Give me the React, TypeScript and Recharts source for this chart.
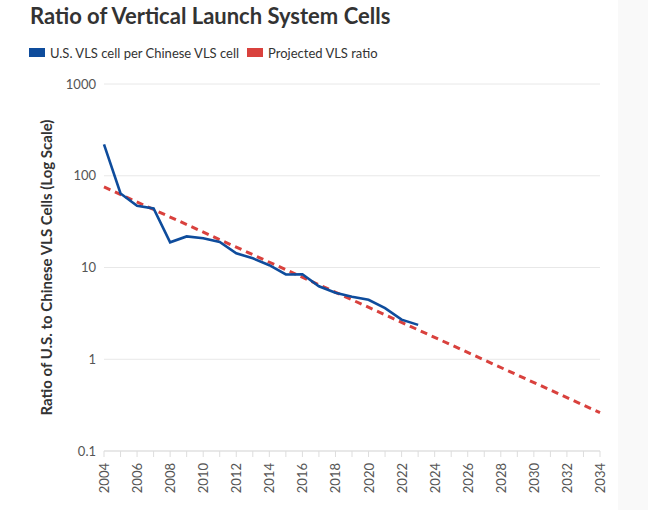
import React from 'react';
import { LineChart, Line, XAxis, YAxis, CartesianGrid, Label } from 'recharts';

// observed ratio, one value per year 2004-2023
const usYears = [2004, 2005, 2006, 2007, 2008, 2009, 2010, 2011, 2012, 2013, 2014, 2015, 2016, 2017, 2018, 2019, 2020, 2021, 2022, 2023];
const usRatio = [220, 64, 47, 44, 18.8, 21.8, 20.8, 19, 14.3, 12.6, 10.6, 8.4, 8.45, 6.25, 5.3, 4.8, 4.45, 3.6, 2.7, 2.37];

// projection (straight line on the log axis), start and end
const projYears = [2004, 2034];
const projRatio = [75.5, 0.262];

const allYears = [2004, 2005, 2006, 2007, 2008, 2009, 2010, 2011, 2012, 2013, 2014, 2015, 2016, 2017, 2018, 2019, 2020, 2021, 2022, 2023, 2024, 2025, 2026, 2027, 2028, 2029, 2030, 2031, 2032, 2033, 2034];
const yTicks = [0.1, 1, 10, 100, 1000];

const FONT = 'Lato, "Open Sans", sans-serif';
const BLUE = '#0e4c9c';
const RED = '#d9413d';

const data = allYears.map((year) => {
  const i = usYears.indexOf(year);
  const j = projYears.indexOf(year);
  return {
    year,
    us: i >= 0 ? usRatio[i] : null,
    proj: j >= 0 ? projRatio[j] : null,
  };
});

const YearTick = (props: any) => {
  const { x, y, payload } = props;
  if (payload.value % 2 !== 0) return null;
  return (
    <text
      x={x}
      y={y + 4}
      transform={`rotate(-90, ${x}, ${y + 4})`}
      textAnchor="end"
      dominantBaseline="central"
      fontSize={13}
      fontFamily={FONT}
      fill="#555"
    >
      {payload.value}
    </text>
  );
};

const YTitle = (props: any) => {
  const { viewBox } = props;
  const cx = 46;
  const cy = viewBox.y + viewBox.height / 2;
  return (
    <text
      x={cx}
      y={cy}
      transform={`rotate(-90, ${cx}, ${cy})`}
      textAnchor="middle"
      dominantBaseline="central"
      fontSize={15}
      fontWeight={700}
      fontFamily={FONT}
      fill="#333"
    >
      Ratio of U.S. to Chinese VLS Cells (Log Scale)
    </text>
  );
};

const LegendItem = ({ color, label }: { color: string; label: string }) => (
  <span style={{ display: 'inline-flex', alignItems: 'center', marginRight: 8 }}>
    <span style={{ width: 16, height: 9, background: color, display: 'inline-block', marginRight: 5 }} />
    <span>{label}</span>
  </span>
);

export default function App() {
  return (
    <div style={{ position: 'absolute', left: 0, top: 0, width: 648, height: 510, background: '#fff', fontFamily: FONT, overflow: 'hidden' }}>
      <div style={{ position: 'absolute', left: 618, top: 0, width: 30, height: 510, background: '#f9f9f9' }} />
      <div style={{ position: 'absolute', left: 30, top: 2, fontSize: 22, fontWeight: 700, color: '#333', whiteSpace: 'nowrap' }}>
        Ratio of Vertical Launch System Cells
      </div>
      <div style={{ position: 'absolute', left: 29, top: 44, fontSize: 13, color: '#333', whiteSpace: 'nowrap' }}>
        <LegendItem color={BLUE} label="U.S. VLS cell per Chinese VLS cell" />
        <LegendItem color={RED} label="Projected VLS ratio" />
      </div>
      <div style={{ position: 'absolute', left: 0, top: 0 }}>
        <LineChart width={648} height={510} data={data} margin={{ top: 84, right: 48, bottom: 9, left: 30 }}>
          <CartesianGrid vertical={false} stroke="#e8e8e8" />
          <XAxis
            dataKey="year"
            type="number"
            domain={[2004, 2034]}
            ticks={allYears}
            interval={0}
            height={50}
            stroke="#dddddd"
            tickSize={6}
            tick={<YearTick />}
          />
          <YAxis
            scale="log"
            domain={[0.1, 1000]}
            ticks={yTicks}
            allowDataOverflow
            width={74}
            axisLine={false}
            tickLine={false}
            tickFormatter={(v: number) => String(v)}
            tick={{ fontSize: 13, fill: '#555', fontFamily: FONT }}
          >
            <Label content={<YTitle />} />
          </YAxis>
          <Line
            dataKey="proj"
            stroke={RED}
            strokeWidth={3}
            strokeDasharray="7 5"
            dot={false}
            connectNulls
            isAnimationActive={false}
          />
          <Line
            dataKey="us"
            stroke={BLUE}
            strokeWidth={2.6}
            dot={false}
            isAnimationActive={false}
          />
        </LineChart>
      </div>
    </div>
  );
}
